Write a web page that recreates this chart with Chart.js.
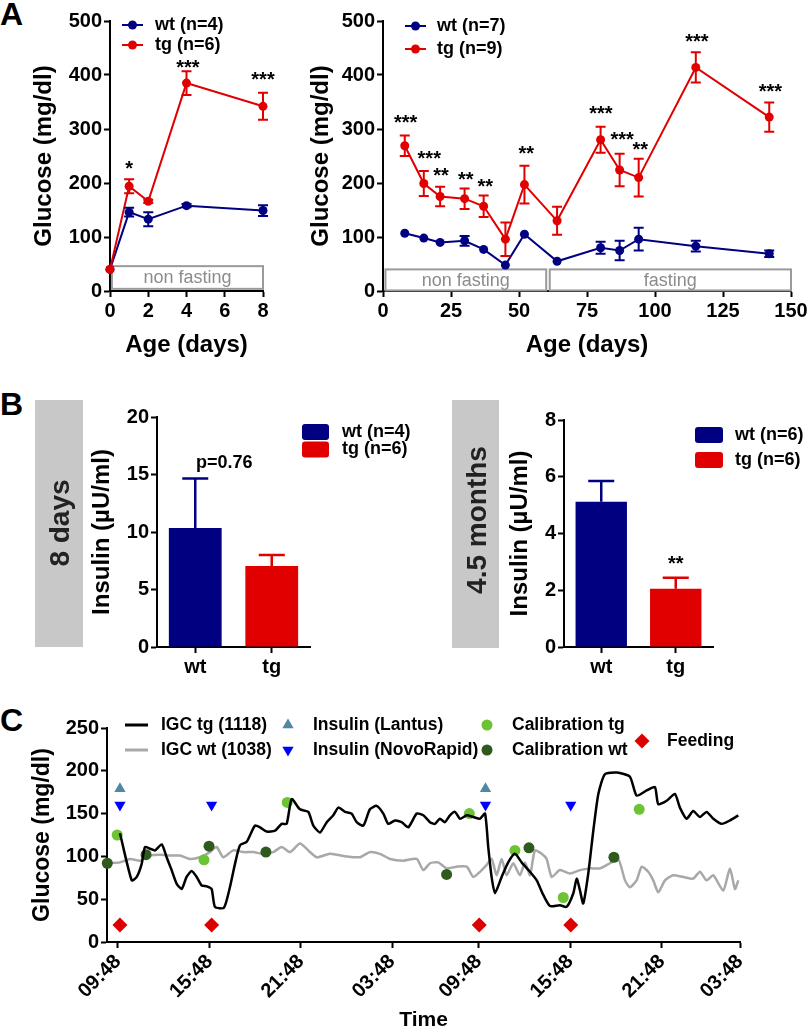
<!DOCTYPE html>
<html>
<head>
<meta charset="utf-8">
<script src="https://cdn.jsdelivr.net/npm/chart.js@4.4.1/dist/chart.umd.min.js"></script>
<style>
  body { margin: 0; background: #fff; width: 810px; height: 1033px; position: relative; overflow: hidden; }
  canvas { position: absolute; }
  .panel { position: absolute; left: 0; font: bold 32px "Liberation Sans", Arial, sans-serif; line-height: 1; color: #000; }
</style>
</head>
<body>
<div class="panel" style="top:-2px">A</div>
<div class="panel" style="top:388px">B</div>
<div class="panel" style="top:704px">C</div>
<canvas id="a1" width="290" height="360" style="left:0;top:0"></canvas>
<canvas id="a2" width="520" height="360" style="left:290px;top:0"></canvas>
<canvas id="b1" width="425" height="300" style="left:0;top:380px"></canvas>
<canvas id="b2" width="385" height="300" style="left:425px;top:380px"></canvas>
<canvas id="c" width="810" height="343" style="left:0;top:690px"></canvas>
<script>
// ---- data: panel A left (first 8 days) ----
const daysA1 = [0, 1, 2, 4, 8];
const wtA1 = [40, 146, 133, 158, 149];
const wtA1Err = [0, 8, 13, 3, 10];
const tgA1 = [40, 194, 166, 385, 342];
const tgA1Err = [0, 13, 3, 22, 25];
const starsA1 = [[1, 237, '*'], [4.07, 424, '***'], [8, 401, '***']];

// ---- data: panel A right (long term) ----
const daysA2 = [8, 15, 21, 30, 37, 45, 52, 64, 80, 87, 94, 115, 142];
const wtA2 = [107, 98, 90, 93, 77, 48, 105, 55, 80, 75, 96, 83, 69];
const wtA2Err = [0, 0, 0, 9, 0, 0, 0, 0, 11, 18, 21, 10, 6];
const tgA2 = [269, 199, 175, 171, 157, 96, 197, 130, 280, 224, 210, 414, 322];
const tgA2Err = [19, 23, 18, 19, 20, 31, 35, 26, 24, 30, 35, 28, 27];
const starsA2 = [[8.3, 322, '***'], [17, 256, '***'], [21.3, 225, '**'], [30.4, 217, '**'], [37.6, 204, '**'],
  [52.7, 265, '**'], [80.1, 338, '***'], [87.9, 290, '***'], [94.6, 272, '**'], [115.4, 472, '***'], [142.4, 379, '***']];

// ---- data: panel B ----
const groupsB = ['wt', 'tg'];
const insulin8d = [10.35, 7.04];
const insulin8dErr = [4.3, 0.96];
const insulin45m = [5.12, 2.05];
const insulin45mErr = [0.73, 0.39];

// ---- data: panel C (hours after first 09:48) ----
const tickHours = [0, 6.01, 12.0, 17.97, 23.66, 29.65, 35.67, 40.79];
const tickLabels = ['09:48', '15:48', '21:48', '03:48', '09:48', '15:48', '21:48', '03:48'];
const tgTime = [0.13,0.9,1.23,1.55,1.77,2.1,2.43,2.87,3.19,3.52,3.85,4.18,4.5,4.83,5.16,5.49,5.82,6.14,6.36,6.95,
  7.34,7.67,8.0,8.44,8.98,9.31,9.75,10.3,10.73,11.06,11.39,11.93,12.48,12.81,13.25,13.69,14.12,14.45,14.89,15.32,
  15.65,16.09,16.52,16.96,17.4,17.72,18.16,18.6,19.04,19.59,20.02,20.46,20.79,21.11,21.44,21.77,22.1,22.43,22.87,23.3,
  23.74,24.07,24.28,24.5,24.72,25.16,25.59,26.03,26.47,27.02,27.46,27.89,28.33,28.98,29.42,29.86,30.08,30.3,30.51,30.84,
  31.17,31.5,31.93,32.72,33.57,34.01,34.67,35.21,35.43,35.98,36.52,36.85,37.29,37.72,38.16,38.6,39.04,39.59,40.13,40.68];
const tgGlucose = [127,72,76,91,111,109,107,114,99,84,68,62,76,83,76,66,65,62,41,40,
  64,91,113,117,136,134,129,130,138,138,167,155,152,136,128,140,148,157,152,150,
  140,136,155,159,150,138,142,140,134,150,148,140,138,144,140,148,152,144,148,146,
  144,150,111,76,57,76,93,103,93,82,72,55,42,43,41,57,74,60,45,80,
  130,173,196,198,193,171,177,181,161,165,173,157,144,153,146,152,144,138,142,148];
const wtTime = [-0.7,0.13,0.79,1.44,2.1,2.75,3.41,4.07,4.72,5.38,6.03,6.47,6.9,7.56,8.22,8.87,9.53,10.18,10.73,11.28,
  11.93,12.48,13.03,13.9,15.0,15.87,16.52,17.18,17.84,18.71,19.59,20.02,20.46,21.0,21.55,22.21,22.87,23.3,23.74,24.18,
  24.5,24.83,25.16,25.49,25.92,26.36,26.69,27.02,27.34,27.78,28.11,28.44,28.98,29.64,30.3,30.95,31.61,32.26,32.81,33.25,
  33.57,34.01,34.34,34.77,35.1,35.43,35.87,36.41,37.07,37.72,38.16,38.6,39.04,39.69,40.13,40.46,40.68];
const wtGlucose = [92,93,97,95,101,102,101,101,97,99,105,111,99,107,105,105,103,105,111,105,
  115,107,99,103,100,99,105,103,97,95,97,84,92,93,86,88,88,76,82,90,
  97,78,97,78,92,78,93,78,107,103,97,76,84,80,84,86,86,92,97,72,
  64,72,88,82,72,58,72,78,76,74,82,72,78,60,86,62,72];
const lantusTime = [0.13, 24.1];
const lantusY = [179, 179];
const novoTime = [0.13, 6.14, 24.1, 29.69];
const novoY = [160, 160, 160, 160];
const calTgTime = [-0.05, 5.64, 11.1, 23.04, 26.03, 29.2, 34.18];
const calTgY = [125, 96, 163, 150, 107, 52, 155];
const calWtTime = [-0.7, 1.84, 5.97, 9.7, 21.55, 26.95, 32.52];
const calWtY = [92, 102, 112, 105, 79, 110, 99];
const feedTime = [0.13, 6.14, 23.69, 29.69];
const feedY = [20, 20, 20, 20];

// ---- styles ----
const FONT = '"Liberation Sans", Arial, sans-serif';
const NAVY = '#000080', RED = '#e00000';
const STEEL = '#4f87a6', BLUE = '#0000ff', LGREEN = '#6cc334', DGREEN = '#2f5a1e', GRAY = '#a8a8a8';

const pts = (xs, ys) => xs.map((x, i) => ({x: x, y: ys[i]}));

function axis(min, max, step, size) {
  return {
    type: 'linear', min: min, max: max,
    ticks: {stepSize: step, color: '#000', padding: 2, font: {family: FONT, size: size, weight: 'bold'}},
    grid: {display: true, drawOnChartArea: false, drawTicks: true, tickLength: 6, tickColor: '#000', tickWidth: 2},
    border: {display: true, color: '#000', width: 2}
  };
}
function title(ax, text, size, pad) {
  ax.title = {display: true, text: text, color: '#000', padding: pad, font: {family: FONT, size: size, weight: 'bold'}};
  return ax;
}
function fix(ax, key, val) {
  ax.afterFit = s => { s[key] = val; };
  return ax;
}

function txt(ctx, s, x, y, size, o) {
  o = o || {};
  ctx.save();
  ctx.font = (o.weight || 'bold') + ' ' + size + 'px ' + FONT;
  ctx.fillStyle = o.color || '#000';
  ctx.textAlign = o.align || 'left';
  ctx.textBaseline = o.baseline || 'middle';
  ctx.translate(x, y);
  if (o.rot) ctx.rotate(o.rot);
  ctx.fillText(s, 0, 0);
  ctx.restore();
}

function drawErrors(chart) {
  const ctx = chart.ctx, ys = chart.scales.y;
  chart.data.datasets.forEach((ds, i) => {
    if (!ds.errors) return;
    const meta = chart.getDatasetMeta(i);
    ctx.save();
    ctx.lineWidth = ds.errWidth || 2;
    meta.data.forEach((el, j) => {
      const e = ds.errors[j];
      if (!e) return;
      const v = typeof ds.data[j] === 'object' ? ds.data[j].y : ds.data[j];
      const top = ys.getPixelForValue(v + e);
      const bot = ds.upOnly ? ys.getPixelForValue(v) : ys.getPixelForValue(v - e);
      const c = ds.capHalf || 5;
      ctx.strokeStyle = Array.isArray(ds.backgroundColor) ? ds.backgroundColor[j] : ds.borderColor;
      ctx.beginPath();
      ctx.moveTo(el.x, top); ctx.lineTo(el.x, bot);
      ctx.moveTo(el.x - c, top); ctx.lineTo(el.x + c, top);
      if (!ds.upOnly) { ctx.moveTo(el.x - c, bot); ctx.lineTo(el.x + c, bot); }
      ctx.stroke();
    });
    ctx.restore();
  });
}

function stars(chart, list, size) {
  const xs = chart.scales.x, ys = chart.scales.y;
  list.forEach(s => txt(chart.ctx, s[2], xs.getPixelForValue(s[0]), ys.getPixelForValue(s[1]) + 0.6 * size, size,
    {align: 'center', baseline: 'alphabetic'}));
}

function fastingBox(chart, x0, x1, y0, y1, label) {
  const ctx = chart.ctx, xs = chart.scales.x, ys = chart.scales.y;
  const l = xs.getPixelForValue(x0), r = xs.getPixelForValue(x1);
  const t = ys.getPixelForValue(y1), b = ys.getPixelForValue(y0);
  ctx.save();
  ctx.strokeStyle = '#9a9a9a'; ctx.lineWidth = 2;
  ctx.strokeRect(l, t, r - l, b - t);
  ctx.restore();
  txt(ctx, label, (l + r) / 2, (t + b) / 2 + 1, 18, {align: 'center', weight: 'normal', color: '#8c8c8c'});
}

function lineLegend(ctx, items, x1, x2, tx, size) {
  items.forEach(it => {
    ctx.save();
    ctx.strokeStyle = it.color; ctx.fillStyle = it.color; ctx.lineWidth = 2;
    ctx.beginPath(); ctx.moveTo(x1, it.y); ctx.lineTo(x2, it.y); ctx.stroke();
    ctx.beginPath(); ctx.arc((x1 + x2) / 2, it.y, 4.5, 0, Math.PI * 2); ctx.fill();
    ctx.restore();
    txt(ctx, it.label, tx, it.y, size);
  });
}

function boxLegend(ctx, items, x, w, h, tx, size) {
  items.forEach(it => {
    ctx.save();
    ctx.fillStyle = it.color;
    ctx.beginPath(); ctx.roundRect(x, it.y - h / 2, w, h, 3); ctx.fill();
    ctx.restore();
    txt(ctx, it.label, tx, it.y, size);
  });
}

function sideBox(ctx, x, y, w, h, label, cx, cy) {
  ctx.save();
  ctx.fillStyle = '#c8c8c8';
  ctx.fillRect(x, y, w, h);
  ctx.restore();
  txt(ctx, label, cx, cy, 28, {align: 'center', color: '#222', rot: -Math.PI / 2});
}

const baseOpts = {
  responsive: false, animation: false, devicePixelRatio: 1, events: [],
  plugins: {legend: {display: false}, tooltip: {enabled: false}}
};

function lineSet(label, xs, ys, errs, color, order) {
  return {
    label: label, data: pts(xs, ys), errors: errs, borderColor: color, backgroundColor: color,
    borderWidth: 2, pointRadius: 4.5, pointBorderWidth: 0, pointBackgroundColor: color,
    clip: false, order: order, tension: 0
  };
}

// ---- A left ----
new Chart(document.getElementById('a1'), {
  type: 'line',
  data: {datasets: [
    lineSet('wt (n=4)', daysA1, wtA1, wtA1Err, NAVY, 1),
    lineSet('tg (n=6)', daysA1, tgA1, tgA1Err, RED, 0)
  ]},
  options: Object.assign({}, baseOpts, {
    layout: {padding: {left: 0, top: 21, right: 27, bottom: 0}},
    scales: {
      x: fix(title(axis(0, 8, 2, 20), 'Age (days)', 24, {top: 0, bottom: 0}), 'height', 69),
      y: fix(title(axis(0, 500, 100, 20), 'Glucose (mg/dl)', 24, {top: 30, bottom: 0}), 'width', 110)
    }
  }),
  plugins: [{
    id: 'a1extra',
    beforeDatasetsDraw(chart) { fastingBox(chart, 0.1, 8, 4, 46, 'non fasting'); },
    afterDatasetsDraw(chart) {
      drawErrors(chart);
      stars(chart, starsA1, 20);
      lineLegend(chart.ctx, [{label: 'wt (n=4)', color: NAVY, y: 25}, {label: 'tg (n=6)', color: RED, y: 45}], 122, 143, 155, 18);
    }
  }]
});

// ---- A right ----
new Chart(document.getElementById('a2'), {
  type: 'line',
  data: {datasets: [
    lineSet('wt (n=7)', daysA2, wtA2, wtA2Err, NAVY, 1),
    lineSet('tg (n=9)', daysA2, tgA2, tgA2Err, RED, 0)
  ]},
  options: Object.assign({}, baseOpts, {
    layout: {padding: {left: 0, top: 21, right: 19, bottom: 0}},
    scales: {
      x: fix(title(axis(0, 150, 25, 20), 'Age (days)', 24, {top: 0, bottom: 0}), 'height', 69),
      y: fix(title(axis(0, 500, 100, 20), 'Glucose (mg/dl)', 24, {top: 17, bottom: 0}), 'width', 93)
    }
  }),
  plugins: [{
    id: 'a2extra',
    beforeDatasetsDraw(chart) {
      fastingBox(chart, 0.9, 60, 1, 40, 'non fasting');
      fastingBox(chart, 61.3, 150, 1, 40, 'fasting');
    },
    afterDatasetsDraw(chart) {
      drawErrors(chart);
      stars(chart, starsA2, 20);
      lineLegend(chart.ctx, [{label: 'wt (n=7)', color: NAVY, y: 26}, {label: 'tg (n=9)', color: RED, y: 49}], 115, 136, 147, 18);
    }
  }]
});

// ---- B bars ----
function barChart(id, values, errs, yMax, yStep, pad, yWidth, yTitlePad, extra) {
  const x = {
    type: 'category',
    ticks: {color: '#000', padding: 2, font: {family: FONT, size: 20, weight: 'bold'}},
    grid: {display: true, offset: false, drawOnChartArea: false, drawTicks: true, tickLength: 6, tickColor: '#000', tickWidth: 2},
    border: {display: true, color: '#000', width: 2}
  };
  return new Chart(document.getElementById(id), {
    type: 'bar',
    data: {labels: groupsB, datasets: [{
      data: values, errors: errs, upOnly: true, capHalf: 13, errWidth: 2.5,
      backgroundColor: [NAVY, RED], borderWidth: 0, barPercentage: 0.69, categoryPercentage: 1
    }]},
    options: Object.assign({}, baseOpts, {
      layout: {padding: pad},
      scales: {
        x: fix(x, 'height', 33),
        y: fix(title(axis(0, yMax, yStep, 20), 'Insulin (\u00b5U/ml)', 24, {top: yTitlePad, bottom: 0}), 'width', yWidth)
      }
    }),
    plugins: [{id: id + 'extra', afterDatasetsDraw(chart) { drawErrors(chart); extra(chart); }}]
  });
}

barChart('b1', insulin8d, insulin8dErr, 20, 5, {left: 85, top: 37, right: 115, bottom: 0}, 72, 3, chart => {
  const ctx = chart.ctx, el = chart.getDatasetMeta(0).data[0];
  sideBox(ctx, 35, 20, 48, 247, '8 days', 61, 143);
  txt(ctx, 'p=0.76', el.x + 29, chart.scales.y.getPixelForValue(16), 18, {align: 'center'});
  boxLegend(ctx, [{label: 'wt (n=4)', color: NAVY, y: 52}, {label: 'tg (n=6)', color: RED, y: 69.5}], 302, 27, 16, 342, 18);
});

barChart('b2', insulin45m, insulin45mErr, 8, 2, {left: 75, top: 40, right: 97, bottom: 0}, 64, 6, chart => {
  const ctx = chart.ctx, el = chart.getDatasetMeta(0).data[1];
  sideBox(ctx, 27, 20, 47, 248, '4.5 months', 53, 140);
  txt(ctx, '**', el.x, chart.scales.y.getPixelForValue(3.14) + 12, 20, {align: 'center', baseline: 'alphabetic'});
  boxLegend(ctx, [{label: 'wt (n=6)', color: NAVY, y: 55}, {label: 'tg (n=6)', color: RED, y: 80}], 270, 28, 16, 310, 18);
});

// ---- C ----
function marker(label, xs, ys, style, radius, color, rot) {
  return {
    label: label, data: pts(xs, ys), showLine: false, pointStyle: style, pointRadius: radius,
    pointRotation: rot || 0, pointBackgroundColor: color, pointBorderColor: color, pointBorderWidth: 0,
    clip: false, order: 1
  };
}
const xC = fix(title(axis(-0.72, 40.79, 6, 20), 'Time', 21, {top: 0, bottom: 0}), 'height', 91);
xC.ticks.autoSkip = false;
xC.ticks.minRotation = 45;
xC.ticks.maxRotation = 45;
xC.ticks.callback = (v, i) => tickLabels[i];
xC.afterBuildTicks = s => { s.ticks = tickHours.map(h => ({value: h})); };

new Chart(document.getElementById('c'), {
  type: 'line',
  data: {datasets: [
    {label: 'IGC tg (1118)', data: pts(tgTime, tgGlucose), borderColor: '#000', borderWidth: 2.5, pointRadius: 0, tension: 0.2, order: 0},
    marker('Insulin (Lantus)', lantusTime, lantusY, 'triangle', 6.5, STEEL),
    marker('Insulin (NovoRapid)', novoTime, novoY, 'triangle', 6.5, BLUE, 180),
    marker('Calibration tg', calTgTime, calTgY, 'circle', 5.5, LGREEN),
    marker('Calibration wt', calWtTime, calWtY, 'circle', 5.5, DGREEN),
    marker('Feeding', feedTime, feedY, 'rectRot', 7.5, '#dd0000'),
    {label: 'IGC wt (1038)', data: pts(wtTime, wtGlucose), borderColor: GRAY, borderWidth: 2.5, pointRadius: 0, tension: 0.2, order: 2}
  ]},
  options: Object.assign({}, baseOpts, {
    layout: {padding: {left: 0, top: 38, right: 70, bottom: 0}},
    scales: {
      x: xC,
      y: fix(title(axis(0, 250, 50, 20), 'Glucose (mg/dl)', 23, {top: 29, bottom: 0}), 'width', 107)
    }
  }),
  plugins: [{
    id: 'cLegend',
    afterDatasetsDraw(chart) {
      const ctx = chart.ctx;
      const lineItem = (color, y, label) => {
        ctx.save(); ctx.strokeStyle = color; ctx.lineWidth = 3;
        ctx.beginPath(); ctx.moveTo(125, y); ctx.lineTo(148, y); ctx.stroke(); ctx.restore();
        txt(ctx, label, 161, y, 17.5);
      };
      lineItem('#000', 35, 'IGC tg (1118)');
      lineItem(GRAY, 60, 'IGC wt (1038)');
      const pointItem = (style, r, rot, color, x, y, tx, label) => {
        ctx.save(); ctx.fillStyle = color; ctx.strokeStyle = color;
        Chart.helpers.drawPoint(ctx, {pointStyle: style, radius: r, rotation: rot, borderWidth: 0}, x, y);
        ctx.restore();
        txt(ctx, label, tx, y, 17.5);
      };
      pointItem('triangle', 6.5, 0, STEEL, 288, 35, 313, 'Insulin (Lantus)');
      pointItem('triangle', 6.5, 180, BLUE, 288, 60, 313, 'Insulin (NovoRapid)');
      pointItem('circle', 5.5, 0, LGREEN, 487, 35, 512, 'Calibration tg');
      pointItem('circle', 5.5, 0, DGREEN, 487, 60, 512, 'Calibration wt');
      pointItem('rectRot', 7.5, 0, '#dd0000', 642, 51, 667, 'Feeding');
    }
  }]
});
</script>
</body>
</html>
